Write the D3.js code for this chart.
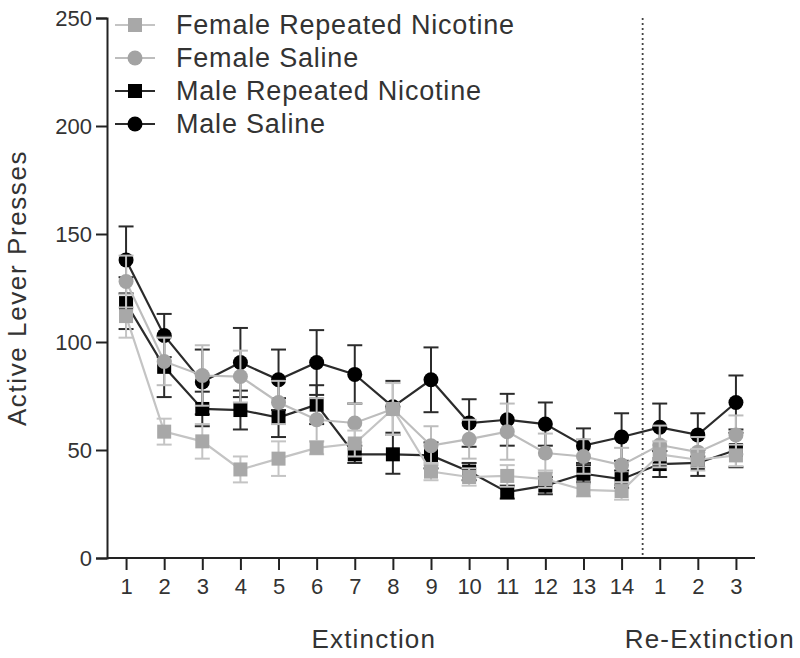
<!DOCTYPE html>
<html>
<head>
<meta charset="utf-8">
<script src="https://cdn.jsdelivr.net/npm/d3@7"></script>
<style>
  html, body { margin: 0; padding: 0; background: #ffffff; }
  svg { display: block; }
</style>
</head>
<body>
<div id="chart"></div>
<script>
// ---- data ----
const extinctionDays = ["1","2","3","4","5","6","7","8","9","10","11","12","13","14"];
const reExtinctionDays = ["1","2","3"];
const seriesNames = ["Female Repeated Nicotine", "Female Saline", "Male Repeated Nicotine", "Male Saline"];

const femaleNicMean = [112, 58.5, 54, 41, 46, 51, 53, 69, 40, 37.5, 38, 36.5, 31.5, 31, 48, 45.5, 47.5];
const femaleNicSem  = [10, 6, 8, 6, 8, 3, 6, 12, 4, 4, 5, 4, 3, 4, 6, 5, 5];
const femaleSalMean = [128, 91, 84.5, 84, 72, 64, 62.5, 69, 52, 55, 58.5, 48.6, 47, 43, 52.3, 49, 57];
const femaleSalSem  = [12, 11, 14, 12, 10, 10, 9, 12, 9, 9, 13, 9, 8, 8, 9, 7, 9];
const maleNicMean   = [118, 88.5, 69, 68.5, 65, 71, 48, 48, 47.5, 40, 30.5, 33.5, 39, 36.5, 43.5, 44, 50];
const maleNicSem    = [12, 14, 8, 9, 9, 9, 4, 9, 6, 4, 3, 4, 4, 4, 6, 6, 8];
const maleSalMean   = [138, 103, 81.5, 90.5, 82.5, 90.5, 85, 70, 82.5, 62.5, 64, 62, 52, 56, 60.5, 57, 72];
const maleSalSem    = [15.5, 10, 15, 16, 14, 15, 13.5, 12, 15, 11, 12, 10, 8, 11, 11, 10, 12.5];

const yTicks = [0, 50, 100, 150, 200, 250];

// ---- layout ----
const width = 800, height = 658;
const margin = { top: 18, right: 45, bottom: 100, left: 107 };
const textColor = "#333333";
const axisColor = "#222222";
const font = "'Liberation Sans', Arial, Helvetica, sans-serif";

const keys = extinctionDays.map(d => "E" + d).concat(reExtinctionDays.map(d => "R" + d));
const labelOf = k => k.slice(1);

const series = [
  { name: seriesNames[0], mean: femaleNicMean, sem: femaleNicSem, shape: "square", fill: "#a8a8a8", line: "#c4c4c4" },
  { name: seriesNames[1], mean: femaleSalMean, sem: femaleSalSem, shape: "circle", fill: "#a3a3a3", line: "#bdbdbd" },
  { name: seriesNames[2], mean: maleNicMean,   sem: maleNicSem,   shape: "square", fill: "#000000", line: "#2b2b2b" },
  { name: seriesNames[3], mean: maleSalMean,   sem: maleSalSem,   shape: "circle", fill: "#000000", line: "#2b2b2b" }
];

const svg = d3.select("#chart").append("svg")
  .attr("width", width)
  .attr("height", height)
  .attr("viewBox", `0 0 ${width} ${height}`);

const x = d3.scalePoint()
  .domain(keys)
  .range([margin.left, width - margin.right])
  .padding(0.5);

const y = d3.scaleLinear()
  .domain([0, 250])
  .range([height - margin.bottom, margin.top]);

// dotted separator between phases
const sepX = (x("E14") + x("R1")) / 2 + 2;
svg.append("line")
  .attr("x1", sepX).attr("x2", sepX)
  .attr("y1", y(250)).attr("y2", y(0))
  .attr("stroke", "#444")
  .attr("stroke-width", 1.8)
  .attr("stroke-dasharray", "2,3");

// ---- axes ----
const yAxis = svg.append("g")
  .attr("transform", `translate(${margin.left},0)`)
  .call(d3.axisLeft(y).tickValues(yTicks).tickSize(11).tickPadding(4));

const xAxis = svg.append("g")
  .attr("transform", `translate(0,${y(0)})`)
  .call(d3.axisBottom(x).tickFormat(labelOf).tickSize(12).tickPadding(8).tickSizeOuter(0));

[yAxis, xAxis].forEach(g => {
  g.select(".domain").attr("stroke", axisColor).attr("stroke-width", 2);
  g.selectAll(".tick line").attr("stroke", axisColor).attr("stroke-width", 2);
  g.selectAll(".tick text")
    .attr("fill", textColor)
    .style("font-family", font)
    .style("font-size", "22px");
});
// extend the x axis line to the y axis
xAxis.select(".domain").attr("d", `M${margin.left},0H${width - margin.right}`);

// y-axis title
svg.append("text")
  .attr("transform", `translate(26,${(y(0) + y(250)) / 2}) rotate(-90)`)
  .attr("text-anchor", "middle")
  .attr("fill", textColor)
  .style("font-family", font)
  .style("font-size", "26px")
  .style("letter-spacing", "1.6px")
  .text("Active Lever Presses");

// phase labels
const extCenter = (x("E1") + x("E14")) / 2;
const reCenter = (x("R1") + x("R3")) / 2 + 12;
[[extCenter, "Extinction"], [reCenter, "Re-Extinction"]].forEach(([cx, label]) => {
  svg.append("text")
    .attr("x", cx).attr("y", 648)
    .attr("text-anchor", "middle")
    .attr("fill", textColor)
    .style("font-family", font).style("font-size", "26px").style("letter-spacing", "1.2px")
    .text(label);
});

// ---- series ----
const drawMarker = (g, s, cx, cy) => {
  if (s.shape === "square") {
    g.append("rect")
      .attr("x", cx - 7).attr("y", cy - 7)
      .attr("width", 14).attr("height", 14)
      .attr("fill", s.fill);
  } else {
    g.append("circle")
      .attr("cx", cx).attr("cy", cy).attr("r", 7.5)
      .attr("fill", s.fill);
  }
};

const line = d3.line()
  .x(d => x(d.key))
  .y(d => y(d.v));

// males drawn first, females on top
const drawOrder = [3, 2, 1, 0];
drawOrder.forEach(i => {
  const s = series[i];
  const pts = keys.map((k, j) => ({ key: k, v: s.mean[j], e: s.sem[j] }));
  const g = svg.append("g").attr("class", "series");

  g.append("path")
    .datum(pts)
    .attr("d", line)
    .attr("fill", "none")
    .attr("stroke", s.line)
    .attr("stroke-width", 2.2);

  // error bars
  pts.forEach(p => {
    const cx = x(p.key);
    g.append("line")
      .attr("x1", cx).attr("x2", cx)
      .attr("y1", y(p.v + p.e)).attr("y2", y(p.v - p.e))
      .attr("stroke", s.line).attr("stroke-width", 2);
    [p.v + p.e, p.v - p.e].forEach(v => {
      g.append("line")
        .attr("x1", cx - 7.5).attr("x2", cx + 7.5)
        .attr("y1", y(v)).attr("y2", y(v))
        .attr("stroke", s.line).attr("stroke-width", 2);
    });
  });

  pts.forEach(p => drawMarker(g, s, x(p.key), y(p.v)));
});

// ---- legend ----
const legend = svg.append("g").attr("class", "legend");
series.forEach((s, i) => {
  const ly = 25 + i * 33;
  const row = legend.append("g");
  row.append("line")
    .attr("x1", 115).attr("x2", 155)
    .attr("y1", ly).attr("y2", ly)
    .attr("stroke", s.line).attr("stroke-width", 2.2);
  drawMarker(row, s, 135, ly);
  row.append("text")
    .attr("x", 176).attr("y", ly)
    .attr("dy", "0.35em")
    .attr("fill", textColor)
    .style("font-family", font)
    .style("font-size", "27px")
    .style("letter-spacing", "0.8px")
    .text(s.name);
});
</script>
</body>
</html>
